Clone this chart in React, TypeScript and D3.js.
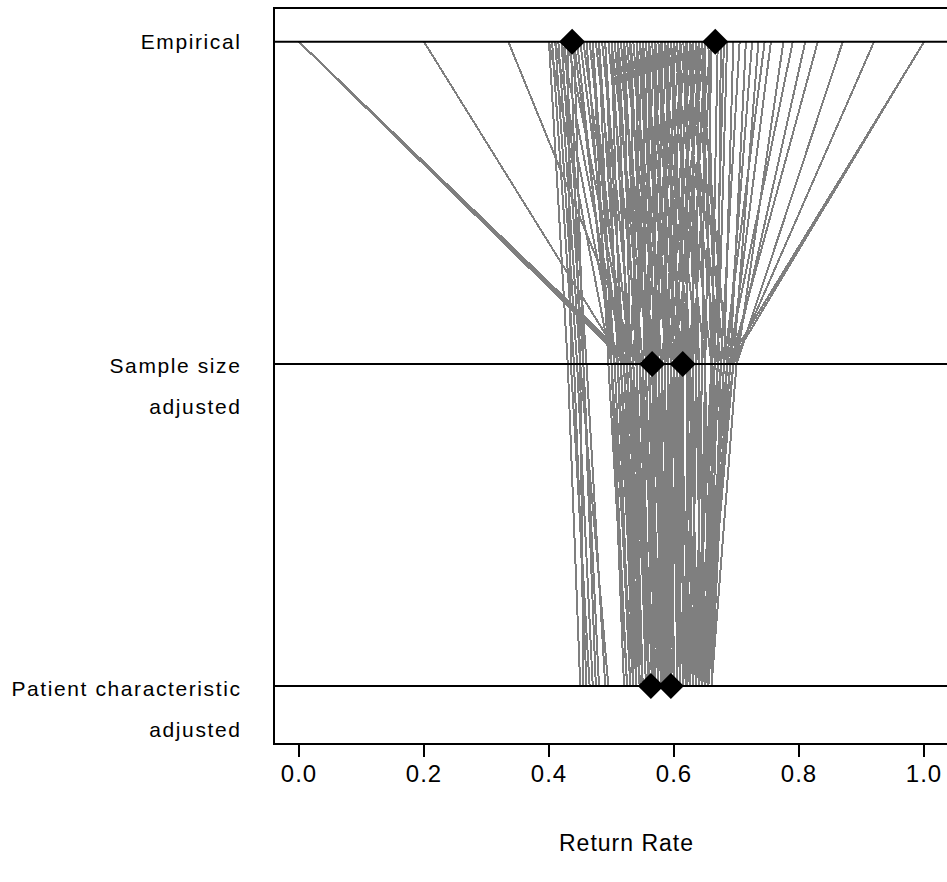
import React from "react";
import * as d3 from "d3";

// return rate per hospital at the three adjustment levels (same order in each array)
const empirical = [
  // small hospitals at the extremes
  0.0, 0.0, 0.0, 0.2, 0.335,
  // low rates, large hospitals
  0.4, 0.405, 0.41, 0.415, 0.42, 0.425, 0.43, 0.435, 0.44,
  0.4, 0.41, 0.42, 0.43, 0.44, 0.45, 0.455, 0.445,
  // middle
  0.46, 0.47, 0.48, 0.49, 0.5, 0.51, 0.52, 0.53, 0.54, 0.55,
  0.56, 0.57, 0.58, 0.59, 0.6, 0.61, 0.62, 0.63, 0.64, 0.65, 0.66,
  0.465, 0.475, 0.485, 0.495, 0.505, 0.515, 0.525, 0.535, 0.545, 0.555,
  0.565, 0.575, 0.585, 0.595, 0.605, 0.615, 0.625, 0.635, 0.645, 0.655,
  0.47, 0.48, 0.49, 0.5, 0.51, 0.52, 0.53, 0.54, 0.55, 0.56,
  0.57, 0.58, 0.59, 0.6, 0.61, 0.62, 0.63, 0.64, 0.65, 0.66,
  0.5, 0.51, 0.52, 0.53, 0.54, 0.55, 0.56, 0.57, 0.58, 0.59,
  0.6, 0.61, 0.62, 0.63, 0.64,
  0.55, 0.56, 0.57, 0.58, 0.59, 0.6, 0.61, 0.62, 0.63, 0.64, 0.65, 0.66,
  // high rates
  1.0, 1.0, 0.92, 0.87, 0.83, 0.81, 0.79, 0.775, 0.755, 0.745,
  0.735, 0.725, 0.715, 0.705, 0.695, 0.685, 0.68, 0.675, 0.67,
];

const sampleSizeAdjusted = [
  0.525, 0.53, 0.535, 0.52, 0.545,
  0.43, 0.44, 0.445, 0.45, 0.455, 0.46, 0.435, 0.45, 0.455,
  0.5, 0.51, 0.52, 0.53, 0.505, 0.515, 0.525, 0.5,
  0.5, 0.505, 0.515, 0.52, 0.53, 0.54, 0.545, 0.555, 0.56, 0.57,
  0.575, 0.585, 0.59, 0.6, 0.605, 0.615, 0.62, 0.63, 0.635, 0.645, 0.65,
  0.52, 0.53, 0.535, 0.545, 0.55, 0.56, 0.565, 0.575, 0.58, 0.59,
  0.595, 0.605, 0.61, 0.62, 0.625, 0.635, 0.64, 0.65, 0.66, 0.665,
  0.495, 0.5, 0.51, 0.515, 0.525, 0.53, 0.54, 0.545, 0.555, 0.56,
  0.57, 0.575, 0.585, 0.59, 0.595, 0.605, 0.61, 0.615, 0.625, 0.63,
  0.56, 0.57, 0.58, 0.59, 0.6, 0.61, 0.62, 0.63, 0.64, 0.65,
  0.66, 0.67, 0.675, 0.68, 0.685,
  0.53, 0.535, 0.54, 0.55, 0.555, 0.56, 0.565, 0.57, 0.58, 0.585, 0.59, 0.6,
  0.685, 0.69, 0.695, 0.7, 0.69, 0.695, 0.685, 0.7, 0.69, 0.68,
  0.695, 0.685, 0.69, 0.675, 0.68, 0.67, 0.665, 0.67, 0.66,
];

const patientAdjusted = [
  0.55, 0.57, 0.56, 0.54, 0.58,
  0.45, 0.46, 0.47, 0.455, 0.48, 0.49, 0.465, 0.495, 0.475,
  0.525, 0.54, 0.55, 0.56, 0.53, 0.545, 0.535, 0.52,
  0.52, 0.53, 0.535, 0.545, 0.55, 0.56, 0.565, 0.57, 0.575, 0.585,
  0.59, 0.595, 0.6, 0.605, 0.61, 0.615, 0.62, 0.625, 0.63, 0.635, 0.64,
  0.545, 0.55, 0.56, 0.565, 0.575, 0.58, 0.585, 0.595, 0.6, 0.61,
  0.615, 0.62, 0.625, 0.635, 0.64, 0.645, 0.65, 0.655, 0.66, 0.655,
  0.525, 0.535, 0.53, 0.54, 0.55, 0.545, 0.555, 0.56, 0.57, 0.575,
  0.58, 0.585, 0.59, 0.595, 0.6, 0.605, 0.61, 0.605, 0.615, 0.62,
  0.58, 0.59, 0.6, 0.61, 0.62, 0.625, 0.63, 0.635, 0.64, 0.645,
  0.65, 0.655, 0.66, 0.65, 0.645,
  0.54, 0.55, 0.545, 0.56, 0.565, 0.57, 0.575, 0.565, 0.58, 0.585, 0.59, 0.58,
  0.64, 0.645, 0.65, 0.66, 0.655, 0.65, 0.645, 0.66, 0.65, 0.655,
  0.64, 0.66, 0.645, 0.635, 0.65, 0.64, 0.63, 0.645, 0.635,
];

// black diamonds (lower / upper marks) on each level
const empiricalMarks = [0.437, 0.666];
const sampleSizeMarks = [0.565, 0.614];
const patientMarks = [0.563, 0.595];

const levels = [3, 2, 1];
const levelLabels = [
  ["Empirical"],
  ["Sample size", "adjusted"],
  ["Patient characteristic", "adjusted"],
];
const xTicks = [0, 0.2, 0.4, 0.6, 0.8, 1.0];

const W = 947;
const H = 882;
const font = "'Liberation Sans', Arial, Helvetica, sans-serif";

export default function App() {
  const x = d3.scaleLinear().domain([-0.04, 1.04]).range([274, 949]);
  const y = d3.scaleLinear().domain([0.82, 3.105]).range([744, 8]);
  const [x0, x1] = x.range();
  const [yb, yt] = y.range();

  const line = d3.line<[number, number]>().x((d) => x(d[0])).y((d) => y(d[1]));
  const diamond = d3.symbol().type(d3.symbolSquare).size(340)();
  const marks = [empiricalMarks, sampleSizeMarks, patientMarks];

  return (
    <svg width={W} height={H} style={{ position: "absolute", left: 0, top: 0, background: "#fff" }}>
      <g shapeRendering="crispEdges">
        {empirical.map((e, i) => (
          <path
            key={i}
            d={line([[e, levels[0]], [sampleSizeAdjusted[i], levels[1]], [patientAdjusted[i], levels[2]]]) || ""}
            fill="none"
            stroke="#7f7f7f"
            strokeWidth={2}
          />
        ))}
      </g>
      {levels.map((lv) => (
        <line key={lv} x1={x0} x2={x1} y1={y(lv)} y2={y(lv)} stroke="#000" strokeWidth={2} />
      ))}
      {marks.map((m, li) =>
        m.map((v, j) => (
          <path
            key={li + "-" + j}
            d={diamond || ""}
            transform={`translate(${x(v)},${y(levels[li])}) rotate(45)`}
            fill="#000"
          />
        ))
      )}
      <rect x={x0} y={yt} width={x1 - x0} height={yb - yt} fill="none" stroke="#000" strokeWidth={2} />
      {/* bottom axis */}
      <g fontFamily={font} fontSize={24} letterSpacing={1}>
        {xTicks.map((t) => (
          <g key={t}>
            <line x1={x(t)} x2={x(t)} y1={yb} y2={yb + 13} stroke="#000" strokeWidth={2} />
            <text x={x(t)} y={773} textAnchor="middle" dominantBaseline="central">
              {t.toFixed(1)}
            </text>
          </g>
        ))}
        <text x={x(0.524)} y={843} textAnchor="middle" dominantBaseline="central" fontSize={23}>
          Return Rate
        </text>
      </g>
      {/* level names */}
      <g fontFamily={font} fontSize={21} letterSpacing={1.6} textAnchor="end">
        {levelLabels.map((lines, li) =>
          lines.map((s, k) => (
            <text
              key={li + "-" + k}
              x={241.5}
              y={y(levels[li]) + (lines.length > 1 ? 2 + k * 41 : 0)}
              dominantBaseline="central"
            >
              {s}
            </text>
          ))
        )}
      </g>
    </svg>
  );
}
